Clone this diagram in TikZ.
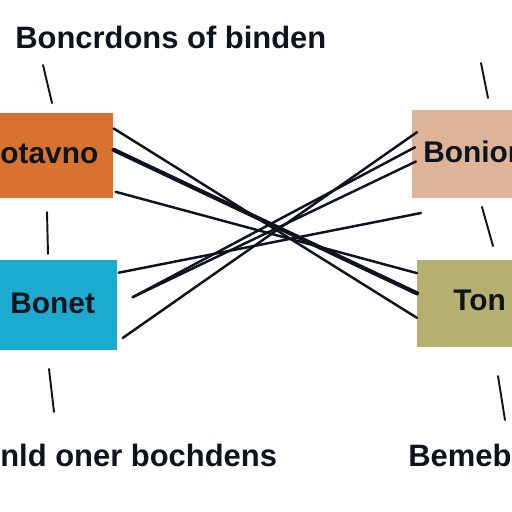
\documentclass[tikz,border=0pt]{standalone}
\usepackage{fontspec}
\setmainfont{Liberation Sans}
\usepackage{xcolor}
\usetikzlibrary{positioning,calc}

\definecolor{orangebox}{RGB}{216,114,46}
\definecolor{cyanbox}{RGB}{28,171,206}
\definecolor{peachbox}{RGB}{222,180,152}
\definecolor{olivebox}{RGB}{182,176,112}
\definecolor{inkline}{RGB}{14,20,30}

\begin{document}
\begin{tikzpicture}[x=0.02cm, y=-0.02cm,
  box/.style={rectangle, inner sep=0pt, anchor=north west},
  lbl/.style={inner sep=0pt, anchor=base west, text=inkline, font=\fontsize{17}{20}\selectfont\bfseries},
  biglbl/.style={lbl, font=\fontsize{17.6}{20}\selectfont\bfseries},
  link/.style={line width=1.4pt, draw=inkline, line cap=round},
  tick/.style={line width=1.1pt, draw=inkline, line cap=round}]

  \useasboundingbox[fill=white] (0,0) rectangle (512,512);

  % cajas
  \node[box, fill=orangebox, minimum width=2.26cm, minimum height=1.70cm] (orange) at (0,113) {};
  \node[box, fill=cyanbox, minimum width=2.34cm, minimum height=1.80cm] (cyan) at (0,260) {};
  \node[box, fill=peachbox, minimum width=2.10cm, minimum height=1.76cm] (peach) at (412,110) {};
  \node[box, fill=olivebox, minimum width=2.10cm, minimum height=1.74cm] (olive) at (417,260) {};

  % textos
  \node[biglbl] (title) at (15,48) {Boncrdons of binden};
  \node[lbl] (otavno) at (0,163) {otavno};
  \node[lbl] (bonet) at (10,313) {Bonet};
  \node[lbl] (bonion) at (423,162) {Bonion};
  \node[lbl] (ton) at (453,310) {Ton};
  \node[biglbl] (oner) at (0,466) {nld oner bochdens};
  \node[biglbl] (bemeb) at (408,466) {Bemeb};

  % marcas
  \draw[tick] (43,65) -- (52,103);
  \draw[tick] (481,63) -- (488,98);
  \draw[tick] (47,212) -- (48,254);
  \draw[tick] (482,207) -- (493,246);
  \draw[tick] (49,369) -- (54,412);
  \draw[tick] (498,376) -- (505,420);

  % naranja -> oliva
  \draw[link] ($(orange.north east)!.18!(orange.south east)$) -- ($(olive.north west)!.66!(olive.south west)$);
  \draw[link, line width=2.4pt] ($(orange.north east)!.43!(orange.south east)$) -- ($(olive.north west)!.38!(olive.south west)$);
  \draw[link] ($(orange.north east)!.92!(orange.south east)+(2,0)$) -- ($(olive.north west)!.15!(olive.south west)$);

  % cian -> durazno
  \coordinate (loose) at (421,213);
  \draw[link] ($(cyan.north east)!.14!(cyan.south east)+(1,0)$) -- (loose);
  \draw[link] ($(cyan.north east)!.41!(cyan.south east)+(15,0)$) -- ($(peach.north west)!.58!(peach.south west)+(4,0)$);
  \draw[link] ($(cyan.north east)!.41!(cyan.south east)+(15,0)$) -- ($(peach.north west)!.42!(peach.south west)+(3,0)$);
  \draw[link] ($(cyan.north east)!.86!(cyan.south east)+(5,0)$) -- ($(peach.north west)!.25!(peach.south west)+(5,0)$);
\end{tikzpicture}
\end{document}
